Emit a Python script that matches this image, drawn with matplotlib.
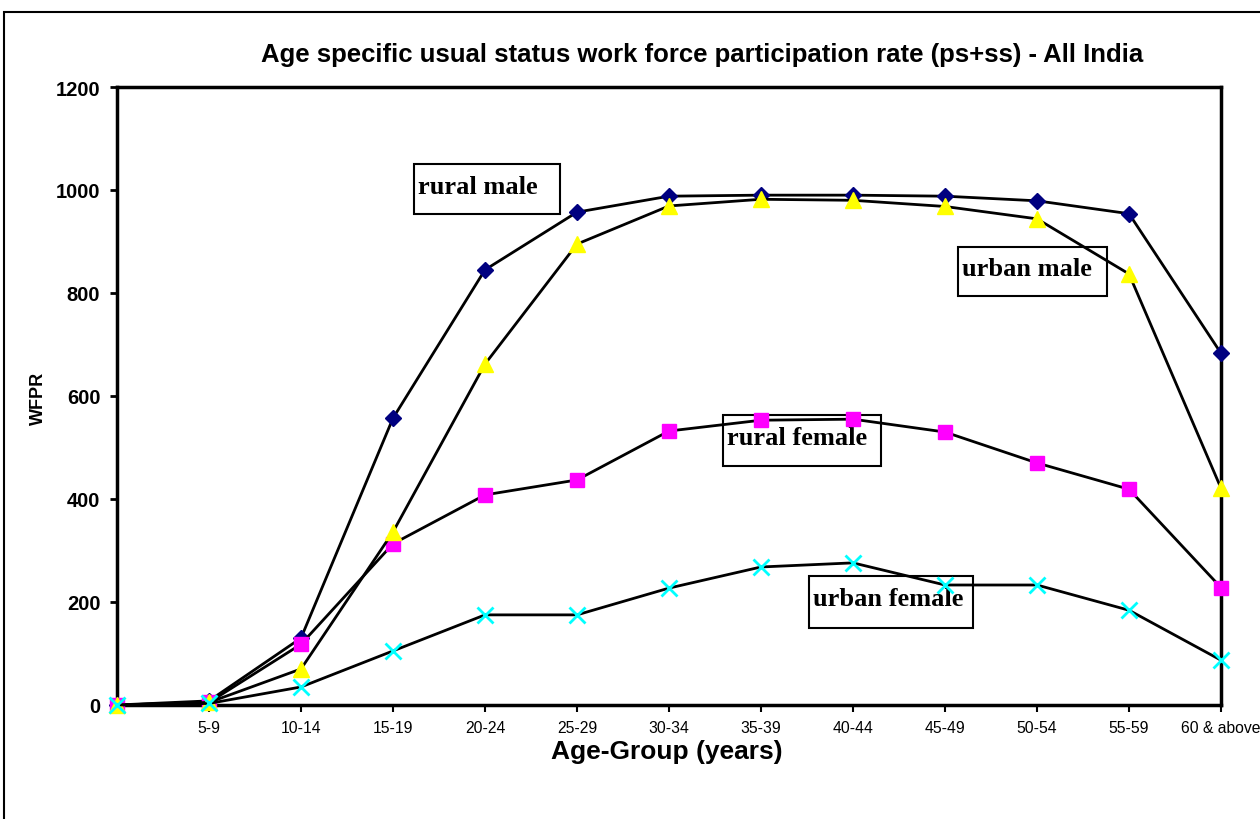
import matplotlib.pyplot as plt
from matplotlib.patches import Rectangle

age_groups = ['', '5-9', '10-14', '15-19', '20-24', '25-29', '30-34',
              '35-39', '40-44', '45-49', '50-54', '55-59', '60 & above']
rural_male = [0, 8, 130, 557, 845, 957, 988, 990, 990, 988, 979, 954, 683]
rural_female = [0, 5, 118, 313, 408, 437, 532, 553, 555, 530, 470, 419, 228]
urban_male = [0, 5, 70, 336, 662, 895, 969, 982, 980, 968, 944, 837, 421]
urban_female = [0, 3, 35, 105, 175, 175, 227, 268, 276, 233, 233, 184, 87]

W, H = 1260, 820
fig = plt.figure(figsize=(W / 100, H / 100), dpi=100)
ax = fig.add_axes([117 / W, 1 - 706 / H, (1221 - 117) / W, (706 - 88) / H])

x = range(len(age_groups))
ax.plot(x, rural_male, color='black', lw=2, marker='D', ms=8,
        mfc='#000080', mec='#000080', clip_on=False, zorder=3)
ax.plot(x, rural_female, color='black', lw=2, marker='s', ms=10,
        mfc='#ff00ff', mec='#ff00ff', clip_on=False, zorder=4)
ax.plot(x, urban_male, color='black', lw=2, marker='^', ms=11,
        mfc='#ffff00', mec='#ffff00', clip_on=False, zorder=5)
ax.plot(x, urban_female, color='black', lw=2, marker='x', ms=11, mew=2,
        mec='#00ffff', clip_on=False, zorder=6)

ax.set_xlim(0, len(age_groups) - 1)
ax.set_ylim(0, 1200)
ax.set_yticks(range(0, 1201, 200))
ax.set_xticks(list(x))
ax.set_xticklabels(age_groups, fontsize=11.3, family='Liberation Sans')
for lab in ax.get_yticklabels():
    lab.set_fontsize(14.5)
    lab.set_fontweight('bold')
    lab.set_family('Liberation Sans')
ax.tick_params(axis='y', direction='out', length=5, width=2, pad=7)
ax.tick_params(axis='x', direction='out', length=5, width=1.5, pad=6)
for s in ax.spines.values():
    s.set_linewidth(2.5)

fig.text(702 / W, 1 - 55 / H,
         'Age specific usual status work force participation rate (ps+ss) - All India',
         ha='center', va='center', fontsize=18.5, fontweight='bold', family='Liberation Sans')
fig.text(667 / W, 1 - 752 / H, 'Age-Group (years)', ha='center', va='center',
         fontsize=19, fontweight='bold', family='Liberation Sans')
fig.text(38 / W, 1 - 398 / H, 'WFPR', rotation=90, ha='center', va='center',
         fontsize=13, fontweight='bold', family='Liberation Sans')

# text boxes (pixel coords: left, top, right, bottom), drawn under the series
boxes = [('rural male', 414, 165, 560, 215),
         ('urban male', 958, 248, 1107, 297),
         ('rural female', 723, 416, 881, 467),
         ('urban female', 809, 577, 973, 629)]
for txt, l, t, r, b in boxes:
    ax.add_patch(Rectangle((l / W, 1 - b / H), (r - l) / W, (b - t) / H,
                           transform=fig.transFigure, fill=False,
                           ec='black', lw=1.5, zorder=2))
    ax.text((l + 4) / W, 1 - ((t + b) / 2 - 3) / H, txt, ha='left', va='center',
            transform=fig.transFigure, fontsize=19, fontweight='bold',
            family='Liberation Serif', zorder=2)

# outer chart frame
fig.patches.append(Rectangle((4 / W, -0.1), 1.2, 1.1 - 13 / H, transform=fig.transFigure,
                             fill=False, ec='black', lw=1.5))

plt.savefig('out.png', dpi=100)
